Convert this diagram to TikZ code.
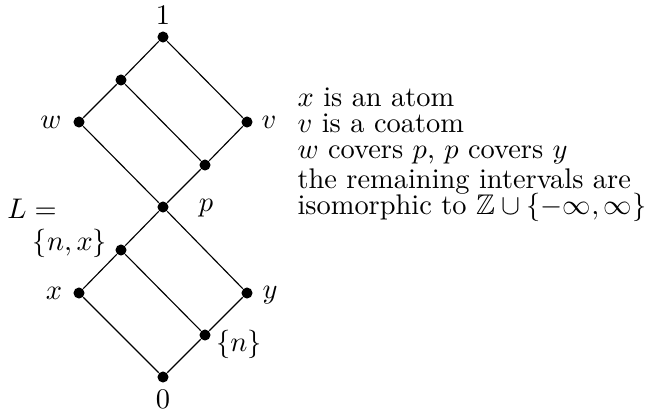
\documentclass[tikz,border=0pt]{standalone}
\usepackage{amssymb}
\begin{document}
\begin{tikzpicture}[x=0.35211pt,y=-0.35211pt,
  dot/.style={circle,fill=black,inner sep=0pt,minimum size=3.9pt},
  lbl/.style={inner sep=0pt},
  txt/.style={anchor=base west,inner sep=0pt},
  edge/.style={line width=0.4pt}]
\useasboundingbox (0,0) rectangle (651,411);
% dots
\node[dot] (one) at (163,37) {};
\node[dot] (a) at (121,80) {};
\node[dot] (w) at (79,122) {};
\node[dot] (v) at (247,122) {};
\node[dot] (b) at (205,165) {};
\node[dot] (p) at (163,207) {};
\node[dot] (nx) at (121,250) {};
\node[dot] (x) at (79,293) {};
\node[dot] (y) at (247,293) {};
\node[dot] (n) at (205,335) {};
\node[dot] (zero) at (163,377) {};
% edges
\draw[edge] (one) -- (a) -- (w) -- (p) -- (b) -- (v) -- (one);
\draw[edge] (a) -- (b);
\draw[edge] (p) -- (nx) -- (x) -- (zero) -- (n) -- (y) -- (p);
\draw[edge] (nx) -- (n);
% labels
\node[lbl] (lone) at (163,15) {$1$};
\node[lbl] (lzero) at (163,399) {$0$};
\node[lbl] (lw) at (51,122) {$w$};
\node[lbl] (lv) at (269,122) {$v$};
\node[lbl] (lp) at (206,208) {$p$};
\node[lbl] (lL) at (32,209) {$L=$};
\node[lbl] (lnx) at (70,243) {$\{n,x\}$};
\node[lbl] (lx) at (54,293) {$x$};
\node[lbl] (ly) at (270,295) {$y$};
\node[lbl] (ln) at (239,344) {$\{n\}$};
% text
\node[txt] (t1) at (297,106) {$x$ is an atom};
\node[txt] (t2) at (297,132) {$v$ is a coatom};
\node[txt] (t3) at (297,158) {$w$ covers $p$, $p$ covers $y$};
\node[txt] (t4) at (297,188) {the remaining intervals are};
\node[txt] (t5) at (297,214) {isomorphic to $\mathbb{Z}\cup\{-\infty,\infty\}$};
\end{tikzpicture}
\end{document}
